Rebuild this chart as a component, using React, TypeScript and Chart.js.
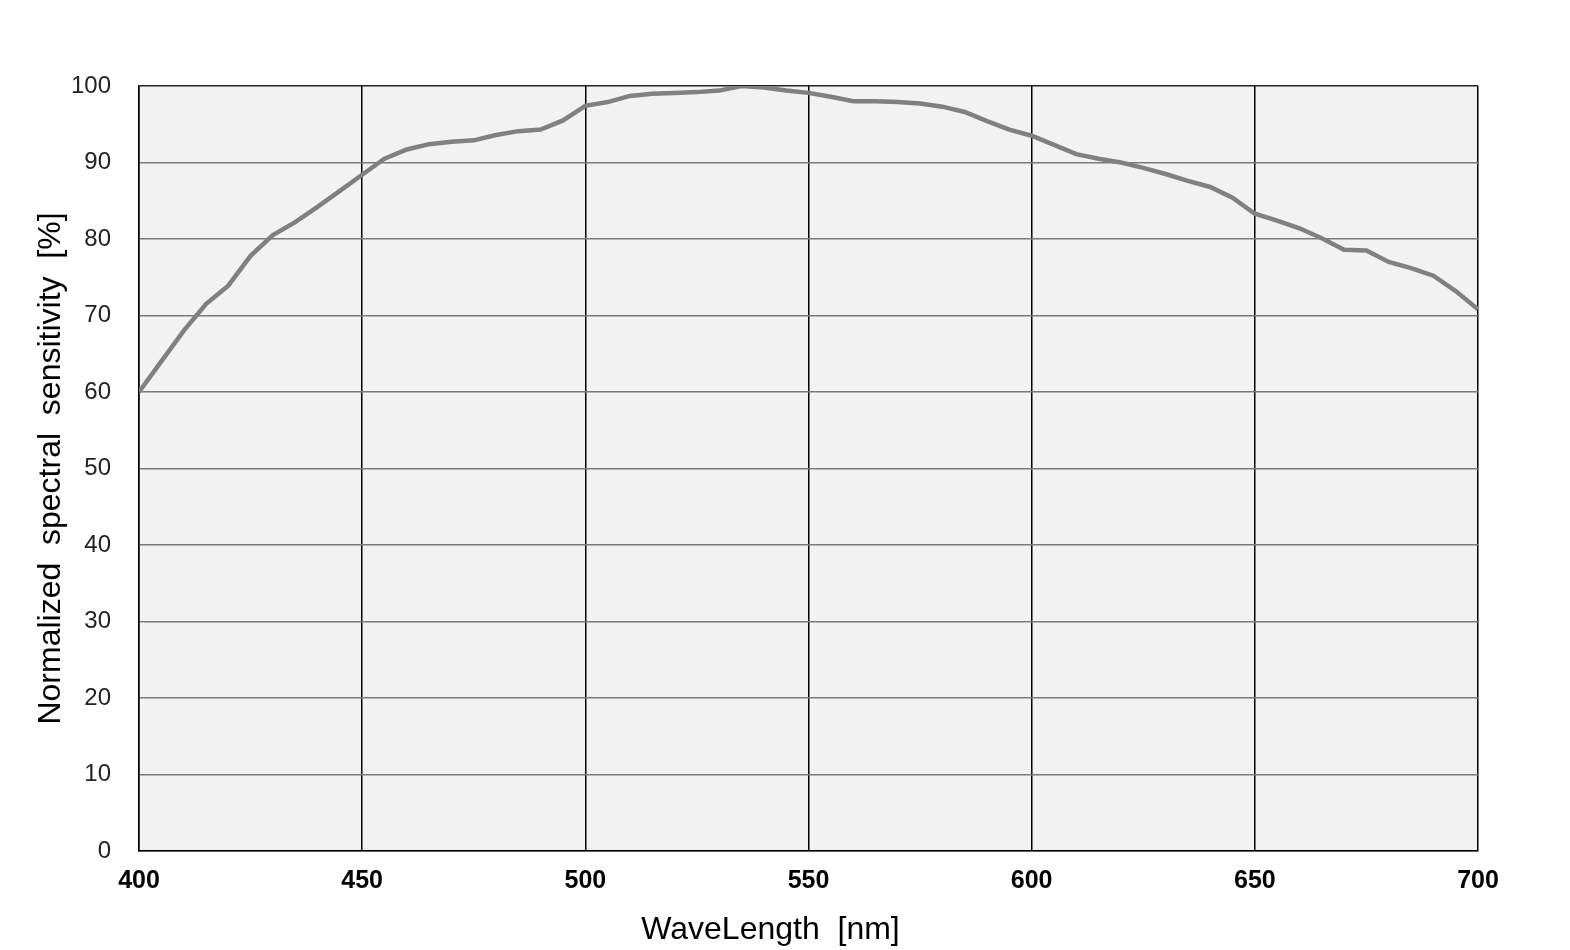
import React, { useEffect, useRef } from 'react';
import { Chart, registerables, Plugin } from 'chart.js';

Chart.register(...registerables);

// wavelength samples [nm]
const wavelengths = [
  400, 405, 410, 415, 420, 425, 430, 435, 440, 445,
  450, 455, 460, 465, 470, 475, 480, 485, 490, 495,
  500, 505, 510, 515, 520, 525, 530, 535, 540, 545,
  550, 555, 560, 565, 570, 575, 580, 585, 590, 595,
  600, 605, 610, 615, 620, 625, 630, 635, 640, 645,
  650, 655, 660, 665, 670, 675, 680, 685, 690, 695,
  700,
];

// normalized sensitivity [%]
const sensitivity = [
  60.0, 64.0, 68.0, 71.5, 73.9, 77.8, 80.5, 82.2, 84.2, 86.3,
  88.4, 90.5, 91.7, 92.4, 92.7, 92.9, 93.6, 94.1, 94.3, 95.5,
  97.4, 97.9, 98.7, 99.0, 99.1, 99.2, 99.4, 100.0, 99.8, 99.4,
  99.1, 98.6, 98.0, 98.0, 97.9, 97.7, 97.3, 96.6, 95.4, 94.3,
  93.5, 92.3, 91.1, 90.5, 90.0, 89.3, 88.5, 87.6, 86.8, 85.4,
  83.3, 82.4, 81.4, 80.1, 78.6, 78.5, 77.0, 76.2, 75.2, 73.2,
  70.8,
];

const xTicks = [400, 450, 500, 550, 600, 650, 700];
const yTicks = [0, 10, 20, 30, 40, 50, 60, 70, 80, 90, 100];

const X_TITLE = 'WaveLength  [nm]';
const Y_TITLE = 'Normalized  spectral  sensitivity  [%]';

const FONT = '"Liberation Sans", Arial, sans-serif';

// fill the plot area with light gray before anything else is drawn
const plotBackground: Plugin<'line'> = {
  id: 'plotBackground',
  beforeDraw(chart) {
    const { ctx, chartArea } = chart;
    ctx.save();
    ctx.fillStyle = '#f2f2f2';
    ctx.fillRect(chartArea.left, chartArea.top, chartArea.right - chartArea.left, chartArea.bottom - chartArea.top);
    ctx.restore();
  },
};

// x axis title sits a little left of the plot centre in the original
const xAxisTitle: Plugin<'line'> = {
  id: 'xAxisTitle',
  afterDraw(chart) {
    const { ctx, chartArea } = chart;
    ctx.save();
    ctx.font = `32px ${FONT}`;
    ctx.fillStyle = '#000';
    ctx.textAlign = 'center';
    ctx.textBaseline = 'middle';
    ctx.fillText(X_TITLE, (chartArea.left + chartArea.right) / 2 - 38, chart.height - 20);
    ctx.restore();
  },
};

const SpectralChart: React.FC = () => {
  const chartRef = useRef<HTMLCanvasElement>(null);
  const chartInstance = useRef<Chart<'line'> | null>(null);

  useEffect(() => {
    document.body.style.margin = '0';
    if (!chartRef.current) return;
    if (chartInstance.current) chartInstance.current.destroy();

    const ctx = chartRef.current.getContext('2d');
    if (!ctx) return;

    chartInstance.current = new Chart(ctx, {
      type: 'line',
      data: {
        datasets: [
          {
            label: 'Sensitivity',
            data: wavelengths.map((w, i) => ({ x: w, y: sensitivity[i] })),
            borderColor: '#808080',
            borderWidth: 4.5,
            pointRadius: 0,
            tension: 0,
            fill: false,
          },
        ],
      },
      options: {
        animation: false,
        responsive: true,
        maintainAspectRatio: false,
        layout: { padding: { left: 0, top: 86, right: 92, bottom: 0 } },
        plugins: {
          legend: { display: false },
          tooltip: { enabled: false },
        },
        scales: {
          x: {
            type: 'linear',
            min: xTicks[0],
            max: xTicks[xTicks.length - 1],
            afterBuildTicks: (scale) => {
              scale.ticks = xTicks.map((v) => ({ value: v }));
            },
            afterFit: (scale) => {
              scale.height = 99;
            },
            ticks: {
              padding: 15,
              color: '#000',
              font: { family: FONT, size: 25, weight: 'bold' },
              maxRotation: 0,
            },
            grid: { color: '#000', lineWidth: 1.5, drawTicks: false },
            border: { color: '#000', width: 1.5 },
          },
          y: {
            min: yTicks[0],
            max: yTicks[yTicks.length - 1],
            afterBuildTicks: (scale) => {
              scale.ticks = yTicks.map((v) => ({ value: v }));
            },
            afterFit: (scale) => {
              scale.width = 139;
            },
            ticks: {
              padding: 28,
              color: '#222',
              font: { family: FONT, size: 24 },
            },
            grid: {
              color: (c) => (c.tick && c.tick.value === 100 ? '#222' : '#7a7a7a'),
              lineWidth: 1.5,
              drawTicks: false,
            },
            border: { color: '#000', width: 1.5 },
            title: {
              display: true,
              text: Y_TITLE,
              color: '#000',
              font: { family: FONT, size: 32 },
              padding: { top: 32, bottom: 0 },
            },
          },
        },
      },
      plugins: [plotBackground, xAxisTitle],
    });

    return () => {
      if (chartInstance.current) {
        chartInstance.current.destroy();
        chartInstance.current = null;
      }
    };
  }, []);

  return (
    <div style={{ width: '1570px', height: '950px', position: 'relative' }}>
      <canvas ref={chartRef} />
    </div>
  );
};

export default function App() {
  return <SpectralChart />;
}
